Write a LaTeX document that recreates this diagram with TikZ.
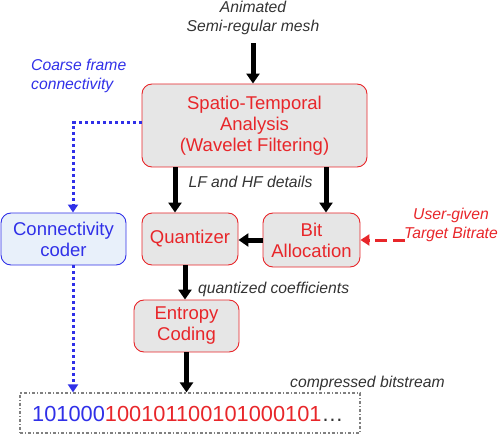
\documentclass[tikz,border=0pt]{standalone}
\usepackage{fontspec}
\setmainfont{Liberation Sans}
\usetikzlibrary{arrows.meta,calc}
\definecolor{myred}{HTML}{E8262A}
\definecolor{myblue}{HTML}{3030E8}
\definecolor{boxgray}{HTML}{E6E6E6}
\definecolor{boxblue}{HTML}{E8F0FA}
\definecolor{txtgray}{HTML}{333333}
\begin{document}
\begin{tikzpicture}[x=1pt,y=-1pt,
  redbox/.style={draw=myred,line width=0.9pt,fill=boxgray,rounded corners=10pt,
    text=myred,align=center,inner sep=0pt,font=\fontsize{18.5}{21}\selectfont},
  bluebox/.style={draw=myblue,line width=0.9pt,fill=boxblue,rounded corners=10pt,
    text=myblue,align=center,inner sep=0pt,font=\fontsize{18.5}{21}\selectfont},
  lbl/.style={font=\fontsize{15.7}{19}\selectfont\itshape,text=txtgray,inner sep=0pt,align=center},
  arr/.style={line width=5pt,-{Triangle[width=13pt,length=10pt]}},
  dotarr/.style={myblue,line width=3pt,dash pattern=on 3pt off 3pt,-{Triangle[width=10pt,length=8pt]}},
  dasharr/.style={myred,line width=3pt,dash pattern=on 12pt off 6pt,-{Triangle[width=11pt,length=9pt]}}
]
\useasboundingbox (0,0) rectangle (499,444);
% nodes
\node[lbl,anchor=north] (mesh) at (253,1) {Animated\\Semi-regular mesh};
\node[redbox,minimum width=225pt,minimum height=83pt] (sta) at (254.5,125.5)
  {Spatio-Temporal\\Analysis\\(Wavelet Filtering)};
\node[bluebox,minimum width=125pt,minimum height=52pt] (cc) at (63.5,239) {Connectivity\\coder};
\node[redbox,minimum width=96pt,minimum height=52pt] (quant) at (190,239) {Quantizer};
\node[redbox,minimum width=97pt,minimum height=54pt] (bit) at (311.5,240) {Bit\\Allocation};
\node[redbox,minimum width=105pt,minimum height=52pt] (ent) at (186.5,326) {Entropy\\Coding};
\node[draw=gray,line width=1.2pt,dash dot,minimum width=340pt,minimum height=40pt,inner sep=0pt] (bits) at (190,413) {};
\node[anchor=base west,inner sep=0pt,font=\fontsize{21.8}{24}\selectfont] (bstr) at (32,421)
  {\textcolor{myblue}{101000}\textcolor{myred}{100101100101000101}\textcolor{txtgray}{\ldots}};
% labels
\node[lbl,text=myblue,align=left,anchor=base west] (coarse) at (31,90) {Coarse frame\\connectivity};
\node[lbl,anchor=base] (lfhf) at (250.5,188) {LF and HF details};
\node[lbl,text=myred,anchor=base] (user) at (451,238) {User-given\\Target Bitrate};
\node[lbl,anchor=base west] (qc) at (198,293) {quantized coefficients};
\node[lbl,anchor=base west] (cb) at (290,387) {compressed bitstream};
% helper coordinates
\coordinate (xl) at (175,0);
\coordinate (xr) at (326,0);
\coordinate (xq) at (185,0);
\coordinate (xd) at (73,0);
\coordinate (ustart) at (405,240);
% connectors
\draw[arr,shorten <=8pt] (mesh.south) -- (mesh.south |- sta.north);
\draw[arr] (sta.south -| xl) -- (quant.north -| xl);
\draw[arr] (sta.south -| xr) -- (bit.north -| xr);
\draw[arr] (bit.west) -- (bit.west -| quant.east);
\draw[arr] (quant.south -| xq) -- (ent.north -| xq);
\draw[arr] (ent.south) -- (ent.south |- bits.north);
\draw[dotarr] ([yshift=2.5pt]sta.west) -| (cc.north -| xd);
\draw[dotarr] (cc.south -| xd) -- (bits.north -| xd);
\draw[dasharr] (ustart) -- (bit.east);
\end{tikzpicture}
\end{document}
